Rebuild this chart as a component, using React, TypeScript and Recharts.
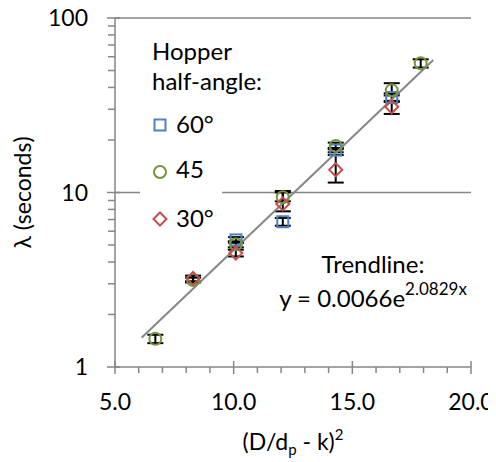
import React from "react";
import { ScatterChart, Scatter, XAxis, YAxis, ErrorBar, ReferenceLine, Legend } from "recharts";

const FONT = "Lato, 'Open Sans', sans-serif";
const GRAY = "#868686";
const BLUE = "#4F81BD";
const GREEN = "#77933C";
const RED = "#C0504D";

// x = (D/dp - k)^2, y = lambda in seconds, err = [below, above]
const x60 = [10.1, 12.07, 14.3, 16.66];
const lambda60 = [5.35, 6.8, 17.5, 35];
const err60 = [[0.2, 0.2], [0.35, 0.35], [0.5, 0.5], [2, 2]];

const x45 = [6.7, 8.29, 10.09, 12.07, 14.3, 16.66, 17.88];
const lambda45 = [1.45, 3.15, 5.05, 9.4, 18.5, 38.5, 55];
const err45 = [[0.08, 0.08], [0.1, 0.1], [0.2, 0.2], [0.5, 0.8], [0.8, 0.8], [2.5, 3.8], [3, 3]];

const x30 = [8.29, 10.09, 12.07, 14.3, 16.66];
const lambda30 = [3.22, 4.5, 8.6, 13.5, 31];
const err30 = [[0.12, 0.12], [0.2, 0.2], [0.8, 1.4], [2.1, 2.9], [2.8, 2.5]];

const trendX = [6.12, 18.41];
const trendY = [1.47, 57.5];

const xTicks = [5, 6, 7, 8, 9, 10, 11, 12, 13, 14, 15, 16, 17, 18, 19, 20];
const xMajor = [5, 10, 15, 20];
const yTicks = [1, 2, 3, 4, 5, 6, 7, 8, 9, 10, 20, 30, 40, 50, 60, 70, 80, 90, 100];
const yMajor = [1, 10, 100];

const build = (xs: number[], ys: number[], errs: number[][]) =>
  xs.map((x, i) => ({ x, y: ys[i], err: errs[i] }));

const data60 = build(x60, lambda60, err60);
const data45 = build(x45, lambda45, err45);
const data30 = build(x30, lambda30, err30);
const trend = trendX.map((x, i) => ({ x, y: trendY[i] }));

const Square = (p: any) => (
  <rect x={p.cx - 5.5} y={p.cy - 5.5} width={11} height={11} fill="none" stroke={BLUE} strokeWidth={2} />
);
const Circle = (p: any) => <circle cx={p.cx} cy={p.cy} r={6} fill="none" stroke={GREEN} strokeWidth={2} />;
const Diamond = (p: any) => (
  <polygon
    points={`${p.cx},${p.cy - 6.5} ${p.cx + 6.5},${p.cy} ${p.cx},${p.cy + 6.5} ${p.cx - 6.5},${p.cy}`}
    fill="none"
    stroke={RED}
    strokeWidth={2}
  />
);

const XTick = ({ x, y, payload }: any) => {
  const major = xMajor.includes(payload.value);
  return (
    <g>
      <line x1={x} x2={x} y1={major ? y - 6 : y} y2={major ? y + 7 : y + 6} stroke={GRAY} strokeWidth={1.5} />
      {major && (
        <text x={x} y={y + 43} textAnchor="middle" fontFamily={FONT} fontSize={23} fill="#000">
          {payload.value.toFixed(1)}
        </text>
      )}
    </g>
  );
};

const YTick = ({ x, y, payload }: any) => {
  const major = yMajor.includes(payload.value);
  return (
    <g>
      <line x1={x - (major ? 8 : 7)} x2={major ? x + 5 : x} y1={y} y2={y} stroke={GRAY} strokeWidth={1.5} />
      {major && (
        <text x={x - 27} y={y + 8} textAnchor="end" fontFamily={FONT} fontSize={23} fill="#000">
          {payload.value}
        </text>
      )}
    </g>
  );
};

const LegendBox = () => (
  <svg width={496} height={462} style={{ position: "absolute", left: 0, top: 0 }}>
    <g transform="translate(8,8)">
      <rect x={132} y={100} width={82} height={135} fill="#fff" />
      <g fontFamily={FONT} fontSize={24} fill="#000">
        <text x={144} y={52}>Hopper</text>
        <text x={144} y={82}>half-angle:</text>
        <rect x={146.5} y={111.5} width={11} height={11} fill="none" stroke={BLUE} strokeWidth={2} />
        <text x={168} y={125}>60°</text>
        <circle cx={152} cy={164} r={6} fill="none" stroke={GREEN} strokeWidth={2} />
        <text x={168} y={170}>45</text>
        <polygon points="152,204.5 158.5,211 152,217.5 145.5,211" fill="none" stroke={RED} strokeWidth={2} />
        <text x={168} y={219}>30°</text>
      </g>
      <g fontFamily={FONT} fontSize={24} fill="#000" textAnchor="middle">
        <text x={365} y={265}>Trendline:</text>
        <text x={365} y={299}>
          y = 0.0066e
          <tspan dy={-12} fontSize={17}>2.0829x</tspan>
        </text>
      </g>
    </g>
  </svg>
);

export default function App() {
  return (
    <div style={{ margin: "-8px 0 0 -8px", width: 496, height: 462 }}>
      <ScatterChart width={496} height={462} margin={{ top: 18, right: 25, left: 8, bottom: 0 }}>
        <XAxis
          type="number"
          dataKey="x"
          domain={[5, 20]}
          ticks={xTicks}
          interval={0}
          tickSize={0}
          tickMargin={0}
          tick={XTick}
          height={95}
          axisLine={{ stroke: GRAY, strokeWidth: 1.5 }}
          label={{
            content: ({ viewBox }: any) => (
              <text
                x={viewBox.x + viewBox.width / 2}
                y={viewBox.y + 83}
                textAnchor="middle"
                fontFamily={FONT}
                fontSize={23}
                fill="#000"
              >
                (D/d
                <tspan dy={5} fontSize={15}>p</tspan>
                <tspan dy={-5}> - k)</tspan>
                <tspan dy={-10} fontSize={15}>2</tspan>
              </text>
            ),
          }}
        />
        <YAxis
          type="number"
          dataKey="y"
          scale="log"
          domain={[1, 100]}
          allowDataOverflow
          ticks={yTicks}
          interval={0}
          tickSize={0}
          tickMargin={0}
          tick={YTick}
          width={107}
          axisLine={{ stroke: GRAY, strokeWidth: 1.5 }}
          label={{
            content: ({ viewBox }: any) => {
              const cx = viewBox.x + 14;
              const cy = viewBox.y + viewBox.height / 2;
              return (
                <text
                  x={cx}
                  y={cy}
                  transform={`rotate(-90 ${cx} ${cy})`}
                  textAnchor="middle"
                  dominantBaseline="central"
                  fontFamily={FONT}
                  fontSize={23}
                  fill="#000"
                >
                  λ (seconds)
                </text>
              );
            },
          }}
        />
        <ReferenceLine y={10} stroke={GRAY} strokeWidth={1.5} />
        <ReferenceLine y={100} stroke={GRAY} strokeWidth={1.5} />
        <Scatter
          data={trend}
          line={{ stroke: GRAY, strokeWidth: 2 }}
          shape={() => <g />}
          legendType="none"
          isAnimationActive={false}
        />
        <Scatter name="60°" data={data60} shape={Square} isAnimationActive={false}>
          <ErrorBar dataKey="err" direction="y" width={8} stroke="#000" strokeWidth={2} isAnimationActive={false} />
        </Scatter>
        <Scatter name="45" data={data45} shape={Circle} isAnimationActive={false}>
          <ErrorBar dataKey="err" direction="y" width={8} stroke="#000" strokeWidth={2} isAnimationActive={false} />
        </Scatter>
        <Scatter name="30°" data={data30} shape={Diamond} isAnimationActive={false}>
          <ErrorBar dataKey="err" direction="y" width={8} stroke="#000" strokeWidth={2} isAnimationActive={false} />
        </Scatter>
        <Legend
          layout="vertical"
          align="center"
          verticalAlign="middle"
          content={LegendBox}
          wrapperStyle={{ left: 0, top: 0, width: 496, height: 462, pointerEvents: "none" }}
        />
      </ScatterChart>
    </div>
  );
}
